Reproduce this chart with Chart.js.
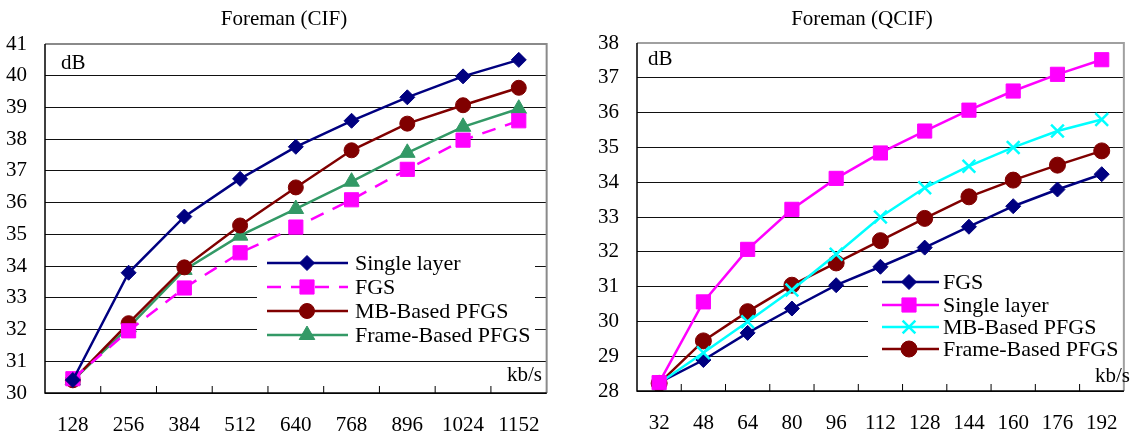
<!DOCTYPE html>
<html>
<head>
<meta charset="utf-8">
<script src="https://cdn.jsdelivr.net/npm/chart.js@4/dist/chart.umd.min.js"></script>
<style>
  body { margin: 0; background: #fff; }
  .box { position: absolute; top: 0; height: 437px; }
</style>
</head>
<body>
<div class="box" style="left:0;width:560px"><canvas id="cif"></canvas></div>
<div class="box" style="left:570px;width:568px"><canvas id="qcif"></canvas></div>
<script>
// Foreman (CIF)
var cifRates = ['128', '256', '384', '512', '640', '768', '896', '1024', '1152'];
var cifSingle = [30.41, 33.79, 35.56, 36.75, 37.76, 38.58, 39.32, 39.98, 40.5];
var cifFGS = [30.45, 31.96, 33.31, 34.42, 35.23, 36.09, 37.05, 37.97, 38.58];
var cifMB = [30.4, 32.2, 33.96, 35.28, 36.48, 37.65, 38.49, 39.07, 39.62];
var cifFrame = [30.4, 32.07, 33.88, 34.96, 35.8, 36.66, 37.57, 38.39, 38.96];

// Foreman (QCIF)
var qcifRates = ['32', '48', '64', '80', '96', '112', '128', '144', '160', '176', '192'];
var qcifFGS = [28.24, 28.89, 29.67, 30.37, 31.04, 31.57, 32.12, 32.72, 33.31, 33.79, 34.23];
var qcifSingle = [28.24, 30.56, 32.07, 33.22, 34.11, 34.84, 35.47, 36.07, 36.62, 37.1, 37.52];
var qcifMB = [28.22, 29.1, 29.99, 30.9, 31.93, 33.0, 33.84, 34.46, 35.0, 35.47, 35.8];
var qcifFrame = [28.22, 29.44, 30.28, 31.04, 31.68, 32.32, 32.96, 33.58, 34.06, 34.49, 34.9];

const serif = '"Liberation Serif", "Times New Roman", serif';

function series(label, data, color, style, radius, dash) {
  return {
    label: label,
    data: data,
    borderColor: color,
    backgroundColor: color,
    borderWidth: 2.5,
    borderDash: dash || [],
    pointStyle: style,
    pointRadius: radius,
    pointHoverRadius: radius,
    pointBackgroundColor: color,
    pointBorderColor: color,
    pointBorderWidth: style == 'crossRot' ? 2.5 : 1,
    fill: false,
    tension: 0
  }
}

function marker(ctx, ds, x, y) {
  ctx.fillStyle = ds.pointBackgroundColor
  ctx.strokeStyle = ds.pointBorderColor
  ctx.lineWidth = ds.pointBorderWidth
  ctx.setLineDash([])
  Chart.helpers.drawPoint(ctx, {pointStyle: ds.pointStyle, radius: ds.pointRadius, rotation: 0, borderWidth: ds.pointBorderWidth}, x, y)
}

const decor = {
  id: 'decor',
  beforeDatasetsDraw(chart, args, o) {
    const ctx = chart.ctx
    ctx.save()
    ctx.fillStyle = '#fff'
    ctx.fillRect(o.box[0], o.box[1], o.box[2], o.box[3])
    ctx.restore()
  },
  afterDatasetsDraw(chart, args, o) {
    const ctx = chart.ctx
    const a = chart.chartArea
    const xs = chart.scales.x
    ctx.save()
    // frame: grey top/right, black left/bottom
    ctx.strokeStyle = o.frame
    ctx.lineWidth = 2
    ctx.beginPath()
    ctx.moveTo(a.left, a.top)
    ctx.lineTo(a.right, a.top)
    ctx.lineTo(a.right, a.bottom)
    ctx.stroke()
    ctx.strokeStyle = '#000'
    ctx.lineWidth = 1.5
    ctx.beginPath()
    ctx.moveTo(a.left, a.top)
    ctx.lineTo(a.left, a.bottom)
    ctx.lineTo(a.right, a.bottom)
    ctx.stroke()
    // small inward ticks between categories
    ctx.lineWidth = 1
    for (let i = 1; i < xs.ticks.length; i++) {
      let x = (xs.getPixelForTick(i - 1) + xs.getPixelForTick(i)) / 2
      ctx.beginPath()
      ctx.moveTo(x, a.bottom)
      ctx.lineTo(x, a.bottom - 7)
      ctx.stroke()
    }
    // texts
    ctx.fillStyle = '#000'
    ctx.font = '21px ' + serif
    ctx.textBaseline = 'middle'
    ctx.textAlign = 'center'
    ctx.fillText(o.title, o.titleX, 19)
    ctx.textAlign = 'left'
    ctx.fillText('dB', o.dB[0], o.dB[1])
    ctx.textAlign = 'right'
    ctx.fillText('kb/s', o.kbs[0], o.kbs[1])
    // legend
    ctx.textAlign = 'left'
    ctx.font = '22px ' + serif
    o.order.forEach((idx, i) => {
      const ds = chart.data.datasets[idx]
      const y = o.rows[i]
      ctx.strokeStyle = ds.borderColor
      ctx.lineWidth = ds.borderWidth
      ctx.setLineDash(ds.borderDash)
      ctx.beginPath()
      ctx.moveTo(o.line[0], y)
      ctx.lineTo(o.line[1], y)
      ctx.stroke()
      marker(ctx, ds, o.line[2], y)
      ctx.fillStyle = '#000'
      ctx.fillText(ds.label, o.line[3], y + 1)
    })
    ctx.restore()
  }
}

function makeChart(id, labels, datasets, min, max, right, top, xh, yw, deco) {
  return new Chart(id, {
    type: 'line',
    data: { labels: labels, datasets: datasets },
    options: {
      responsive: true,
      maintainAspectRatio: false,
      animation: false,
      layout: { padding: { top: top, right: right, left: 0, bottom: 0 } },
      scales: {
        x: {
          offset: true,
          grid: { display: false, drawTicks: false },
          border: { display: false },
          ticks: { color: '#000', font: { family: serif, size: 21 }, padding: 20, maxRotation: 0, autoSkip: false },
          afterFit: (s) => { s.height = xh }
        },
        y: {
          min: min,
          max: max,
          grid: { color: '#111', lineWidth: 1, drawTicks: false },
          border: { display: false },
          ticks: { stepSize: 1, color: '#000', font: { family: serif, size: 21 }, padding: 18 },
          afterFit: (s) => { s.width = yw }
        }
      },
      plugins: {
        legend: { display: false },
        tooltip: { enabled: false },
        decor: deco
      }
    },
    plugins: [decor]
  })
}

makeChart('cif', cifRates, [
  series('Single layer', cifSingle, '#000080', 'rectRot', 7.5),
  series('FGS', cifFGS, '#ff00ff', 'rect', 10, [14, 10]),
  series('MB-Based PFGS', cifMB, '#800000', 'circle', 7.5),
  series('Frame-Based PFGS', cifFrame, '#339966', 'triangle', 9)
], 30, 41, 11, 44, 44, 45, {
  title: 'Foreman (CIF)', titleX: 284, frame: '#8a8a8a',
  dB: [61, 63], kbs: [542, 375],
  box: [257, 249, 278, 96], rows: [263, 287, 311, 335], line: [267, 348, 307, 355],
  order: [0, 1, 2, 3]
})

makeChart('qcif', qcifRates, [
  series('Single layer', qcifSingle, '#ff00ff', 'rect', 10),
  series('MB-Based PFGS', qcifMB, '#00ffff', 'crossRot', 9),
  series('Frame-Based PFGS', qcifFrame, '#800000', 'circle', 8),
  series('FGS', qcifFGS, '#000080', 'rectRot', 7.5)
], 28, 38, 6, 43, 46, 67, {
  title: 'Foreman (QCIF)', titleX: 292, frame: '#a0a0a0',
  dB: [78, 59], kbs: [560, 376],
  box: [298, 270, 262, 92], rows: [282, 305, 327, 349], line: [312, 369, 339, 373],
  order: [3, 0, 1, 2]
})
</script>
</body>
</html>
